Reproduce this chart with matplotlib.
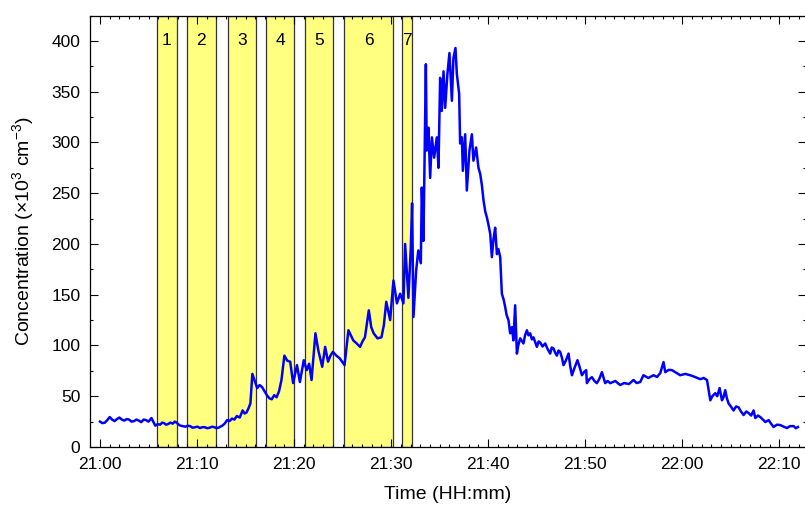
import datetime as dt

import matplotlib
matplotlib.use('Agg')
import matplotlib.pyplot as plt
import matplotlib.dates as mdates
from matplotlib.ticker import MultipleLocator

# minutes after 21:00 and concentration (x10^3 cm^-3)
minutes = [
    0.0, 0.25, 0.5, 0.75, 1.0, 1.25, 1.5, 1.75, 2.0, 2.25, 2.5, 2.75, 3.0, 3.25,
    3.5, 3.75, 4.0, 4.25, 4.5, 4.75, 5.0, 5.3,
    5.7, 5.95, 6.2, 6.4, 6.6, 6.8, 7.0, 7.25, 7.5, 7.7, 7.9, 8.1, 8.3, 8.55,
    8.8, 9.05, 9.3, 9.55, 9.8, 10.05, 10.3, 10.55, 10.8, 11.05, 11.3, 11.55,
    11.8, 12.0, 12.2, 12.4, 12.6, 12.85, 13.1, 13.35, 13.6, 13.85, 14.1, 14.4,
    14.7, 14.9, 15.1, 15.3, 15.5, 15.7, 15.95, 16.2, 16.45, 16.7, 16.95, 17.2,
    17.45, 17.7, 17.95, 18.2, 18.45, 18.7,
    19.0, 19.3, 19.6, 19.9, 20.3, 20.6, 21.0, 21.3, 21.55, 21.8, 22.2, 22.5,
    22.9, 23.2, 23.5, 23.75, 24.0, 24.35, 24.7, 25.2, 25.6, 25.85, 26.1, 26.45,
    26.8, 27.05, 27.3, 27.7, 27.95, 28.2, 28.6, 29.0, 29.25, 29.5, 29.9, 30.24,
    30.6, 30.93, 31.27, 31.44, 31.62, 31.78, 32.03, 32.16, 32.3, 32.58, 32.8,
    33.06, 33.16, 33.33, 33.58, 33.67, 33.85, 34.02, 34.2, 34.43, 34.71, 34.88,
    35.05, 35.22, 35.4, 35.57, 35.8, 36.01, 36.26, 36.42, 36.63, 36.77, 37.01,
    37.11, 37.29, 37.39, 37.63, 37.8, 38.07, 38.32, 38.48, 38.76, 39.0, 39.18,
    39.35, 39.52, 39.7, 39.87, 40.05, 40.21, 40.38, 40.55, 40.72, 40.9, 41.05,
    41.24, 41.41, 41.6, 41.75, 41.9, 42.09, 42.27, 42.45, 42.6, 42.78, 42.96,
    43.1, 43.3, 43.5, 43.64, 43.8, 43.99, 44.15, 44.33, 44.5, 44.67, 44.85,
    45.02, 45.2, 45.36, 45.6, 45.88, 46.1, 46.39, 46.55, 46.73, 46.9, 47.08,
    47.25, 47.42, 47.6, 47.76, 48.0, 48.28, 48.45, 48.63, 48.9, 49.2, 49.45,
    49.66, 49.9, 50.1, 50.17, 50.45, 50.69, 50.95, 51.2, 51.45, 51.72, 51.9,
    52.06, 52.3, 52.58, 53.1, 53.6, 54.0, 54.5, 54.98, 55.3, 55.67, 56.0, 56.5,
    57.04, 57.4, 57.73, 58.07, 58.25, 58.6, 58.94, 59.4, 59.79, 60.3, 60.82,
    61.3, 61.86, 62.2, 62.55, 62.89, 63.1, 63.4, 63.6, 63.85, 64.09, 64.25,
    64.43, 64.6, 64.77, 65.0, 65.29, 65.55, 65.81, 66.05, 66.32, 66.6, 66.84,
    67.1, 67.35, 67.53, 67.8, 68.04, 68.3, 68.56, 68.9, 69.15, 69.41, 69.75,
    70.1, 70.45, 70.79, 71.1, 71.47, 71.7, 71.92,
]
concentration = [
    25, 23.5, 24, 26.5, 29.5, 27, 25.5, 27.5, 29, 27, 26, 27.5, 27, 25,
    25.5, 27, 26, 24.5, 27, 26.5, 25, 28.5,
    21, 22.5, 22, 24, 23.5, 22, 22.5, 24, 23, 25, 24, 22, 21, 20.5,
    20, 21, 20.5, 19, 19.5, 20, 18.7, 19.5, 19.5, 18.5, 19, 20,
    19.5, 18.5, 19, 20, 21, 23, 26.5, 25.5, 28, 27, 30.5, 29,
    36, 33, 34, 38, 43, 72, 65, 58, 61, 59, 55, 51,
    48, 47, 51, 49, 55, 66,
    90, 85, 84, 63, 80.6, 64, 85.5, 75.7, 82, 66, 112, 95,
    79, 98.6, 84, 90, 93.7, 90, 87.4, 80.6, 115, 110, 105, 102,
    98.6, 104, 108, 134.6, 118, 112, 107, 108, 120, 143, 125, 164,
    141.5, 151, 141.5, 200, 171, 147, 196.6, 240, 128, 174, 193.6,
    181, 255.5, 203, 377, 292, 314.5, 265, 305, 285, 305, 275,
    363.6, 331, 370, 334, 367.6, 388, 341, 383, 393, 367.6, 348,
    299, 305, 272, 308, 252.6, 292, 308, 282, 295, 275, 269,
    258, 243, 232, 226, 218, 210, 187, 205, 216, 190, 195,
    187, 151, 145, 138, 130, 125, 112, 118, 105, 139.6, 92,
    100, 107, 104, 102, 110, 115, 110, 112, 106, 108, 103,
    98.6, 104, 103, 99, 102, 97, 92, 98, 97, 93, 90,
    95, 93.7, 88, 80.6, 85, 92, 80, 70.7, 78, 85.5, 78,
    70.7, 74, 75.7, 62.9, 67, 68.8, 65, 62.9, 67, 73.7, 68,
    62.9, 65, 62.9, 65, 61, 63, 62, 66, 63, 64, 70.7, 68,
    70.7, 69, 72.7, 83.6, 73.7, 76, 75.7, 73, 70.7, 72, 70.7,
    69, 66.8, 68, 66, 46, 50, 53, 50, 58, 46, 49,
    56, 48, 43, 40, 36, 40, 39, 35, 31.5, 35, 33.4,
    31, 36, 28.5, 31, 29.5, 27, 24.6, 26.5, 23, 19.7, 22,
    21.6, 20, 18.7, 20.5, 20.6, 18.5, 19.7,
]

# sampling periods (minutes after 21:00)
period_labels = ['1', '2', '3', '4', '5', '6', '7']
period_start = [5.85, 8.94, 13.16, 17.11, 21.17, 25.15, 31.1]
period_end = [7.9, 11.96, 16.05, 20.0, 24.05, 30.24, 32.1]

plt.rcParams['font.family'] = ['Liberation Sans', 'DejaVu Sans']
plt.rcParams['mathtext.fontset'] = 'custom'
plt.rcParams['mathtext.rm'] = 'Liberation Sans'
plt.rcParams['mathtext.it'] = 'Liberation Sans:italic'

base = dt.datetime(2000, 1, 1, 21, 0)


def to_time(m):
    return base + dt.timedelta(minutes=m)


times = [to_time(m) for m in minutes]

fig = plt.figure(figsize=(8.05, 5.05), dpi=100)
ax = fig.add_axes([90 / 805, 1 - 447 / 505, 715.5 / 805, (447 - 15.5) / 505])

for lab, s, e in zip(period_labels, period_start, period_end):
    ax.axvspan(to_time(s), to_time(e), facecolor='#ffff80', edgecolor='#333333',
               lw=0.9, zorder=1)
    ax.text(to_time((s + e) / 2), 400, lab, ha='center', va='center',
            fontsize=12.5, zorder=3)

ax.plot(times, concentration, color='#0000ff', lw=1.8, zorder=2)

ax.set_xlim(to_time(-1.03), to_time(72.7))
ax.set_ylim(0, 425)

ax.xaxis.set_major_locator(mdates.MinuteLocator(byminute=range(0, 60, 10)))
ax.xaxis.set_minor_locator(mdates.MinuteLocator())
ax.xaxis.set_major_formatter(mdates.DateFormatter('%H:%M'))
ax.yaxis.set_major_locator(MultipleLocator(50))
ax.yaxis.set_minor_locator(MultipleLocator(25))

ax.tick_params(which='both', direction='in', top=True, right=True,
               width=0.8, labelsize=12.5, pad=7)
ax.tick_params(which='major', length=5.5)
ax.tick_params(which='minor', length=2.5)
for sp in ax.spines.values():
    sp.set_linewidth(0.9)

ax.set_xlabel('Time (HH:mm)', fontsize=14, labelpad=10)
ax.set_ylabel('Concentration (×10$^{3}$ cm$^{-3}$)', fontsize=14, labelpad=11)

fig.savefig('out.png', dpi=100)
